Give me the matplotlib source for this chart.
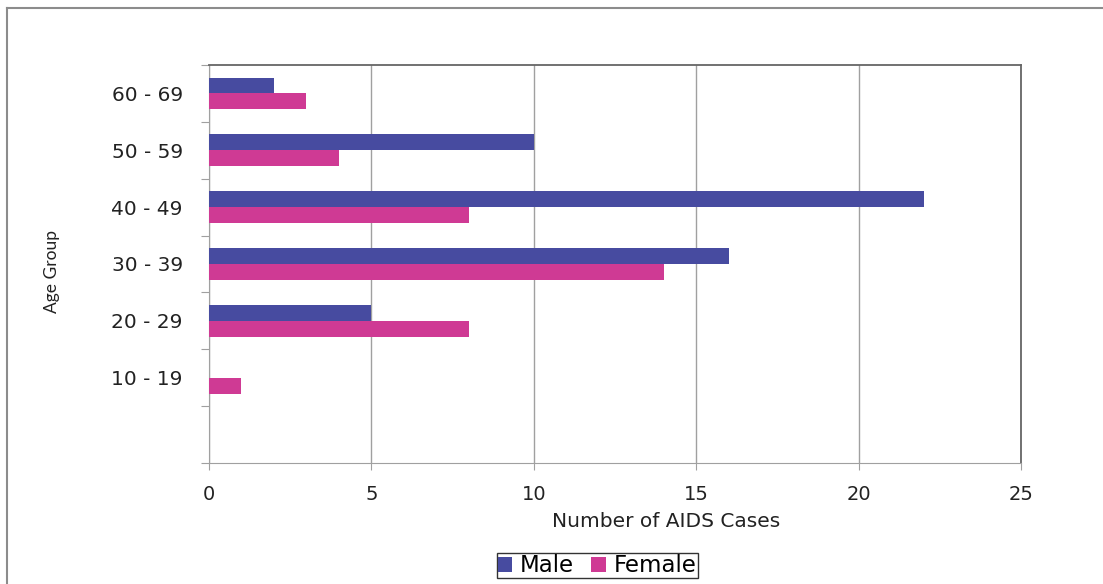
import matplotlib
matplotlib.use("Agg")
import numpy as np
from matplotlib import pyplot as plt
from matplotlib.lines import Line2D

plt.rcParams["font.family"] = ["DejaVu Sans"]

# bottom slot is an empty category
age_groups = ["", "10 - 19", "20 - 29", "30 - 39", "40 - 49", "50 - 59", "60 - 69"]
male = [0, 0, 5, 16, 22, 10, 2]
female = [0, 1, 8, 14, 8, 4, 3]

male_color = "#474BA0"
female_color = "#CF3A94"

fig = plt.figure(figsize=(11.03, 5.84), dpi=100)
ax = fig.add_axes([0.1895, 0.2072, 0.7362, 0.6815])

# outer frame: top and left edges only
fig.lines.append(Line2D([0.0063, 1.0], [0.986, 0.986], transform=fig.transFigure,
                        color="#8c8c8c", linewidth=1.5))
fig.lines.append(Line2D([0.0063, 0.0063], [0.0, 0.986], transform=fig.transFigure,
                        color="#8c8c8c", linewidth=1.5))

y = np.arange(len(age_groups))
h = 0.28
ax.barh(y + h / 2, male, height=h, color=male_color, label="Male", zorder=3)
ax.barh(y - h / 2, female, height=h, color=female_color, label="Female", zorder=3)

ax.set_xlim(0, 25)
ax.set_ylim(-0.5, len(age_groups) - 0.5)
ax.set_xticks([0, 5, 10, 15, 20, 25])
ax.xaxis.grid(True, color="#a0a0a0", linewidth=1, zorder=0)
ax.tick_params(axis="x", length=5, color="#a0a0a0", pad=11, labelsize=14, labelcolor="#222222")

# category boundaries get tick marks, centres get the labels
ax.set_yticks(np.arange(len(age_groups) + 1) - 0.5)
ax.set_yticklabels([])
ax.set_yticks(y, minor=True)
ax.set_yticklabels(age_groups, minor=True, fontsize=14.5, color="#222222")
ax.tick_params(axis="y", which="major", length=6, color="#a0a0a0")
ax.tick_params(axis="y", which="minor", length=0, pad=19)

for side in ["left", "bottom"]:
    ax.spines[side].set_color("#a0a0a0")
for side in ["top", "right"]:
    ax.spines[side].set_color("#666666")
    ax.spines[side].set_linewidth(1.3)

ax.set_xlabel("Number of AIDS Cases", fontsize=14.5, color="#222222")
ax.xaxis.set_label_coords(0.563, -0.122)
ax.set_ylabel("Age Group", fontsize=12.5, family="Lato", color="#222222")
ax.yaxis.set_label_coords(-0.183, 0.48)

leg = ax.legend(loc="center", bbox_to_anchor=(0.478, -0.258), ncol=2, fontsize=16.5,
                frameon=True, fancybox=False, handlelength=0.62, handleheight=0.62,
                handletextpad=0.35, columnspacing=0.75, borderpad=0.05, borderaxespad=0)
leg.get_frame().set_edgecolor("black")
leg.get_frame().set_linewidth(1)

fig.savefig("out.png", dpi=100)
